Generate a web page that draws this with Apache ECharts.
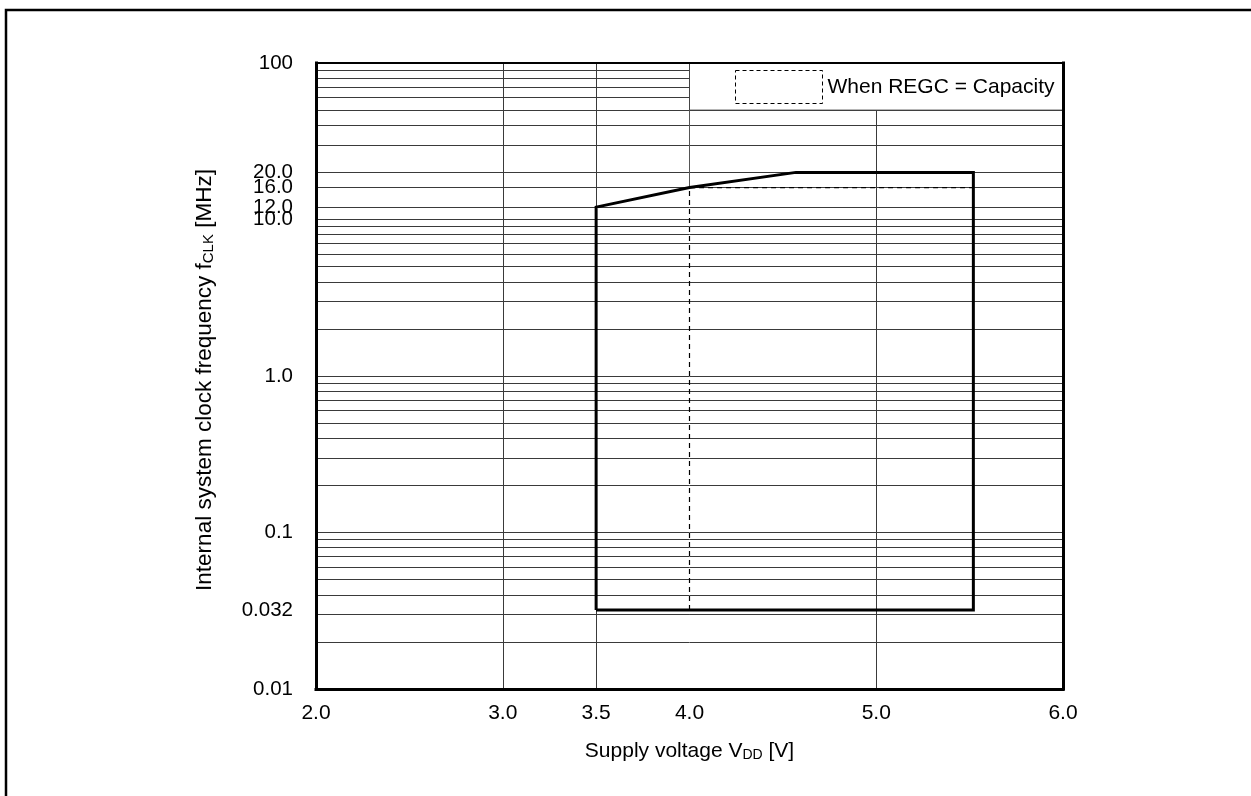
<!DOCTYPE html>
<html>
<head>
<meta charset="utf-8">
<script src="https://cdn.jsdelivr.net/npm/echarts@6/dist/echarts.min.js"></script>
<style>
html,body{margin:0;padding:0;background:#fff;}
#chart{width:1251px;height:796px;}
</style>
</head>
<body>
<div id="chart"></div>
<script>
// ---- data ----
const operatingAreaV   = [3.5, 3.5, 4.0, 4.57, 5.52, 5.52, 3.5];
const operatingAreaMHz = [0.032, 12, 16, 20, 20, 0.032, 0.032];
const regcAreaV   = [4.0, 4.0, 5.52];
const regcAreaMHz = [0.032, 16, 16];
const legendName = 'When REGC = Capacity';

const xTickValues = [2.0, 3.0, 3.5, 4.0, 5.0, 6.0];
const xTickLabels = ['2.0', '3.0', '3.5', '4.0', '5.0', '6.0'];
const yTickValues = [0.01, 0.032, 0.1, 1, 10, 12, 16, 20, 100];
const yTickLabels = ['0.01', '0.032', '0.1', '1.0', '10.0', '12.0', '16.0', '20.0', '100'];

const xGridValues = [3.0, 3.5, 5.0];
const yGridDecades = [0.01, 0.1, 1, 10];
const yGridMultipliers = [1, 2, 3, 4, 5, 6, 7, 8, 9];
const yGridExtra = [0.032, 12, 16];
const partialGridV = [4.0, 4.0];
const partialGridMHz = [100, 16];
const legendBoxV = [4.0, 6.0];
const legendBoxMHz = [50, 100];

// ---- build ----
const FONT = '"Liberation Sans", Arial, Helvetica, sans-serif';
const zip = (a, b) => a.map((v, i) => [v, b[i]]);
const yGridValues = [];
yGridDecades.forEach(d => yGridMultipliers.forEach(m => yGridValues.push(+(d * m).toPrecision(6))));
yGridExtra.forEach(v => yGridValues.push(v));

const gridLineData = yGridValues.map(v => ({ yAxis: v })).concat(xGridValues.map(v => ({ xAxis: v })));

function lookupLabel(values, labels, v) {
  let best = 0, bd = Infinity;
  values.forEach((t, i) => {
    const d = Math.abs(Math.log(t) - Math.log(v));
    if (d < bd) { bd = d; best = i; }
  });
  return labels[best];
}

const chart = echarts.init(document.getElementById('chart'), null, { renderer: 'canvas' });
const borderLine = (w) => ({ show: true, onZero: false, lineStyle: { color: '#000', width: w, cap: 'square' } });
const subRich = { sub: { fontSize: 14, color: '#000', fontFamily: FONT, verticalAlign: 'bottom', padding: [5, 0, 0, 0] } };

chart.setOption({
  animation: false,
  backgroundColor: '#fff',
  textStyle: { fontFamily: FONT },
  grid: { left: 316, right: 188, top: 63, bottom: 107, containLabel: false },
  graphic: [{
    type: 'polyline',
    shape: { points: [[6, 796], [6, 10], [1251, 10]] },
    style: { stroke: '#000', lineWidth: 2.5, fill: null },
    z: 20
  }],
  legend: {
    left: 735, top: 70, padding: 0,
    itemWidth: 87, itemHeight: 33,
    textStyle: { fontSize: 21, color: '#000', fontFamily: FONT },
    selectedMode: false,
    z: 12,
    data: [{
      name: legendName,
      icon: 'rect',
      itemStyle: { color: '#fff', borderColor: '#000', borderWidth: 1, borderType: [4, 3] }
    }]
  },
  xAxis: [{
    type: 'value', min: 2, max: 6, position: 'bottom', z: 10,
    axisLine: borderLine(3),
    axisTick: { show: false },
    splitLine: { show: false },
    axisLabel: {
      customValues: xTickValues,
      formatter: v => xTickLabels[xTickValues.indexOf(Math.round(v * 10) / 10)] ?? '',
      fontSize: 21, color: '#000', margin: 14, fontFamily: FONT
    },
    name: 'Supply voltage V{sub|DD} [V]',
    nameLocation: 'middle', nameGap: 52,
    nameTextStyle: { fontSize: 21, color: '#000', fontFamily: FONT, rich: subRich }
  }, {
    type: 'value', min: 2, max: 6, position: 'top', z: 10,
    axisLine: borderLine(2),
    axisTick: { show: false }, axisLabel: { show: false }, splitLine: { show: false }
  }],
  yAxis: [{
    type: 'log', logBase: 10, min: 0.01, max: 100, position: 'left', z: 10,
    axisLine: borderLine(3),
    axisTick: { show: false },
    splitLine: { show: false },
    minorSplitLine: { show: false },
    axisLabel: {
      customValues: yTickValues,
      formatter: v => lookupLabel(yTickValues, yTickLabels, v),
      fontSize: 20.5, color: '#000', margin: 23, fontFamily: FONT
    },
    name: 'Internal system clock frequency f{sub|CLK} [MHz]',
    nameLocation: 'middle', nameGap: 100,
    nameTextStyle: {
      fontSize: 22.5, color: '#000', fontFamily: FONT,
      padding: [0, 8, 0, 0],
      rich: { sub: { fontSize: 15, color: '#000', fontFamily: FONT, verticalAlign: 'bottom', padding: [5, 0, 0, 0] } }
    }
  }, {
    type: 'log', logBase: 10, min: 0.01, max: 100, position: 'right', z: 10,
    axisLine: borderLine(3),
    axisTick: { show: false }, axisLabel: { show: false }, splitLine: { show: false }
  }],
  series: [{
    name: 'gridlines',
    type: 'line', data: [], z: 1, silent: true,
    markLine: {
      z: 1,
      silent: true, symbol: ['none', 'none'], animation: false,
      label: { show: false },
      lineStyle: { color: '#3a3a3a', width: 1, type: 'solid' },
      emphasis: { disabled: true },
      data: gridLineData
    }
  }, {
    name: 'gridPartial',
    type: 'line', z: 1, silent: true, symbol: 'none',
    lineStyle: { color: '#555', width: 1 },
    data: zip(partialGridV, partialGridMHz)
  }, {
    name: 'legendBox',
    type: 'custom', z: 3, silent: true, clip: false,
    encode: { x: [0, 2], y: [1, 3] },
    data: [[legendBoxV[0], legendBoxMHz[0], legendBoxV[1], legendBoxMHz[1]]],
    renderItem: (params, api) => {
      const p0 = api.coord([api.value(0), api.value(1)]);
      const p1 = api.coord([api.value(2), api.value(3)]);
      return {
        type: 'rect',
        shape: {
          x: Math.min(p0[0], p1[0]), y: Math.min(p0[1], p1[1]),
          width: Math.abs(p1[0] - p0[0]), height: Math.abs(p1[1] - p0[1])
        },
        style: { fill: '#fff', stroke: '#444', lineWidth: 1 }
      };
    }
  }, {
    name: 'Operating area',
    type: 'line', z: 5, silent: true, symbol: 'none',
    lineStyle: { color: '#000', width: 3, join: 'miter' },
    data: zip(operatingAreaV, operatingAreaMHz)
  }, {
    name: legendName,
    type: 'line', z: 4, silent: true, symbol: 'none',
    lineStyle: { color: '#000', width: 1.2, type: [5, 4] },
    data: zip(regcAreaV, regcAreaMHz)
  }]
});
</script>
</body>
</html>
